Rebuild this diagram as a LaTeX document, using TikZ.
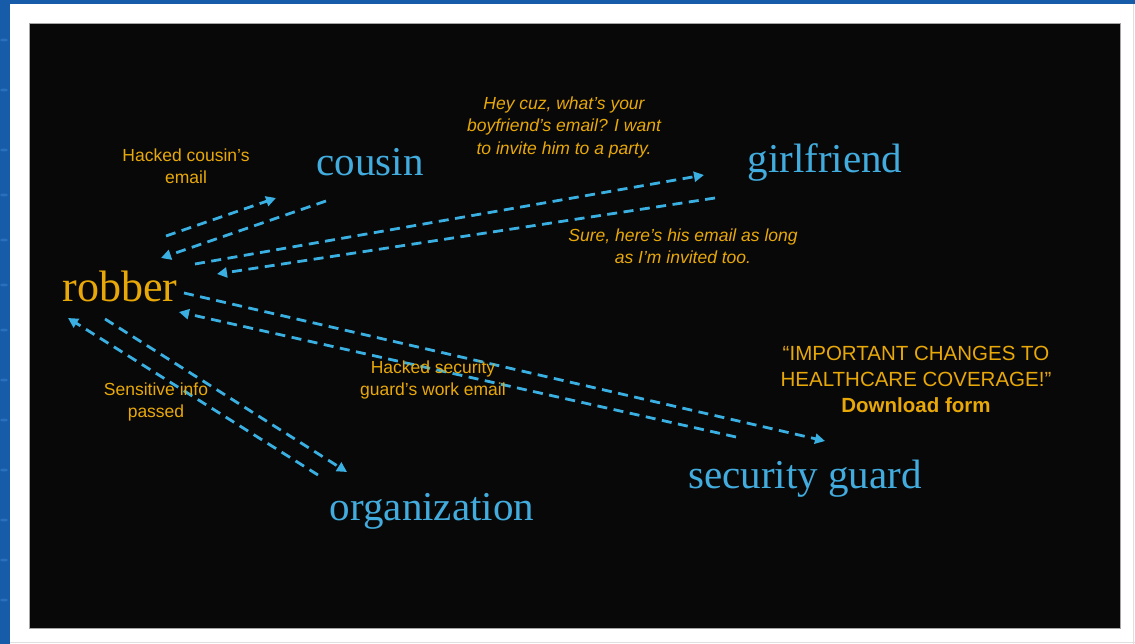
\documentclass[tikz,border=0pt]{standalone}
\usepackage{fontspec}
\setmainfont{Liberation Serif}
\newfontfamily\labfont{Liberation Sans}
\usetikzlibrary{arrows.meta}
\definecolor{bg}{RGB}{8,8,8}
\definecolor{gold}{RGB}{232,168,8}
\definecolor{sky}{RGB}{66,172,222}
\definecolor{arr}{RGB}{58,176,226}
\definecolor{frameblue}{RGB}{22,92,168}
\definecolor{streak}{RGB}{40,112,190}
\begin{document}
\begin{tikzpicture}[x=1pt,y=-1pt,
  actor/.style={inner sep=0pt, text=sky, font=\fontsize{41}{49}\selectfont},
  lab/.style={inner sep=0pt, text=gold, align=center, font=\labfont\fontsize{17.5}{22.5}\selectfont},
  conn/.style={draw=arr, line width=2.8pt, dash pattern=on 10pt off 6.5pt,
    -{Triangle[length=10pt,width=10pt]}}]
\useasboundingbox (0,0) rectangle (1135,644);
\fill[white] (0,0) rectangle (1135,644);
\fill[frameblue] (0,0) rectangle (1135,4.5);
\fill[frameblue] (0,0) rectangle (10,644);
\foreach \yy in {40,90,150,195,240,285,330,380,420,470,520,560,600}
  \fill[streak] (4,\yy) ellipse (4 and 1.5);
\draw[gray!25, line width=1] (1133.5,4.5) -- (1133.5,644);
\draw[gray!25, line width=1] (10,642.5) -- (1135,642.5);
\filldraw[fill=bg, draw=gray!70, line width=0.8] (29,23) rectangle (1120,628);

% actors
\node[actor, text=gold, font=\fontsize{44}{52}\selectfont] (robber) at (120,286) {robber};
\node[actor] (cousin) at (370,162) {cousin};
\node[actor] (girlfriend) at (825,162) {girlfriend};
\node[actor] (organization) at (432,511) {organization};
\node[actor] (guard) at (805,479) {security guard};

% connector end points
\coordinate (a1s) at (166,236); \coordinate (a1e) at (276,198);
\coordinate (a2s) at (326,201); \coordinate (a2e) at (161,258);
\coordinate (a3s) at (195,264); \coordinate (a3e) at (704,175);
\coordinate (a4s) at (715,198); \coordinate (a4e) at (217,274);
\coordinate (a5s) at (184,293); \coordinate (a5e) at (825,441);
\coordinate (a6s) at (736,437); \coordinate (a6e) at (179,312);
\coordinate (a7s) at (105,319); \coordinate (a7e) at (347,472);
\coordinate (a8s) at (318,475); \coordinate (a8e) at (68,318);

\draw[conn] (a1s) -- (a1e);
\draw[conn] (a2s) -- (a2e);
\draw[conn] (a3s) -- (a3e);
\draw[conn] (a4s) -- (a4e);
\draw[conn] (a5s) -- (a5e);
\draw[conn] (a6s) -- (a6e);
\draw[conn] (a7s) -- (a7e);
\draw[conn] (a8s) -- (a8e);

% labels
\node[lab] (lcousin) at (186,166) {Hacked cousin’s\\email};
\node[lab, font=\labfont\itshape\fontsize{17.5}{22.5}\selectfont] (lhey) at (564,127)
  {Hey cuz, what’s your\\boyfriend’s email? I want\\to invite him to a party.};
\node[lab, font=\labfont\itshape\fontsize{17.5}{22.5}\selectfont] (lsure) at (683,246)
  {Sure, here’s his email as long\\as I’m invited too.};
\node[lab] (lsens) at (156,402) {Sensitive info\\passed};
\node[lab] (lhack) at (433,380) {Hacked security\\guard’s work email};
\node[lab, font=\labfont\fontsize{20.5}{26}\selectfont] (limp) at (916,379)
  {“IMPORTANT CHANGES TO\\HEALTHCARE COVERAGE!”\\\textbf{Download form}};
\end{tikzpicture}
\end{document}
